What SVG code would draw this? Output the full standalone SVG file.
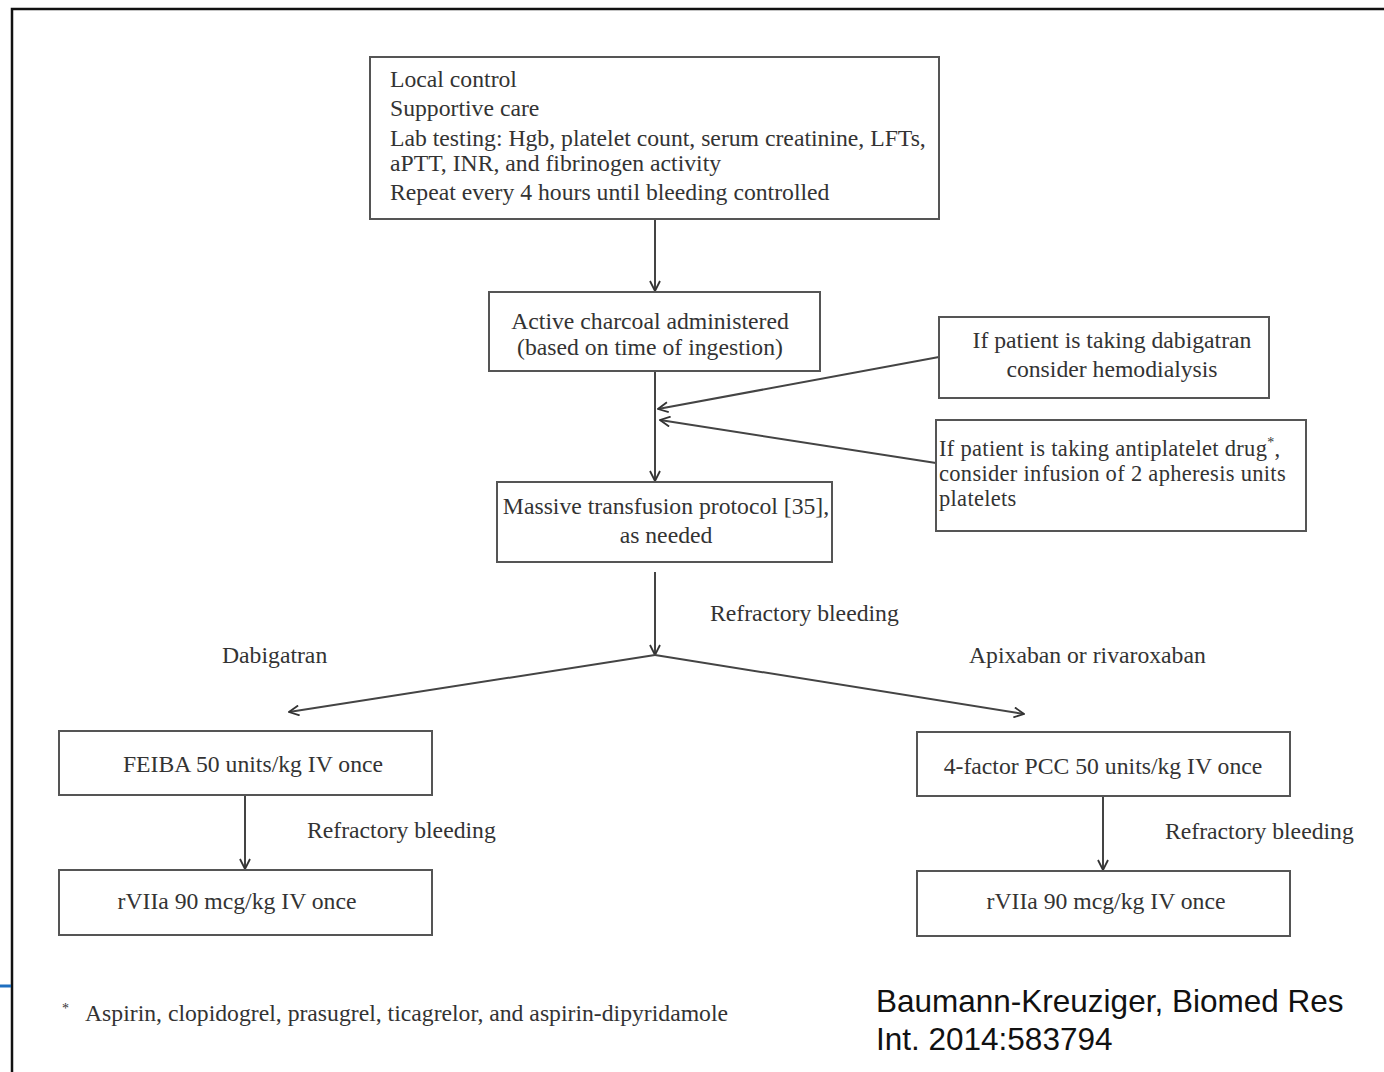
<svg xmlns="http://www.w3.org/2000/svg" width="1384" height="1072" viewBox="0 0 1384 1072">
<defs>
<style>
.box{fill:#fff;stroke:#555;stroke-width:2}
.t{font-family:"Liberation Serif","Times New Roman",serif;font-size:23.7px;fill:#333}
.s{font-size:22.5px;letter-spacing:0.3px}
.c{text-anchor:middle}
.fn{font-family:"Liberation Serif","Times New Roman",serif;font-size:23.7px;fill:#333}
.cite{font-family:"Liberation Sans",Arial,sans-serif;font-size:31.5px;fill:#111}
.ln{stroke:#444;stroke-width:2;fill:none}
</style>
<marker id="ah" viewBox="0 0 12 12" refX="11" refY="6" markerWidth="12" markerHeight="12" markerUnits="userSpaceOnUse" orient="auto">
<path d="M1,1 L11,6 L1,11" fill="none" stroke="#333" stroke-width="1.8"/>
</marker>
</defs>
<rect width="1384" height="1072" fill="#fff"/>
<g id="frame">
<path d="M12,1072 L12,9 L1384,9" fill="none" stroke="#111" stroke-width="2.5"/>
<line x1="0" y1="986" x2="11" y2="986" stroke="#1f6fc0" stroke-width="3"/>
</g>
<g id="connectors">
<line class="ln" x1="655" y1="220" x2="655" y2="291" marker-end="url(#ah)"/>
<line class="ln" x1="655" y1="372" x2="655" y2="481" marker-end="url(#ah)"/>
<line class="ln" x1="939" y1="357" x2="658" y2="409" marker-end="url(#ah)"/>
<line class="ln" x1="936" y1="463" x2="660" y2="420" marker-end="url(#ah)"/>
<line class="ln" x1="655" y1="572" x2="655" y2="655" marker-end="url(#ah)"/>
<line class="ln" x1="655" y1="655" x2="289" y2="712" marker-end="url(#ah)"/>
<line class="ln" x1="655" y1="655" x2="1024" y2="714" marker-end="url(#ah)"/>
<line class="ln" x1="245" y1="796" x2="245" y2="869" marker-end="url(#ah)"/>
<line class="ln" x1="1103" y1="797" x2="1103" y2="870" marker-end="url(#ah)"/>
</g>
<g id="labels">
<text class="t" x="710" y="621">Refractory bleeding</text>
<text class="t" x="222" y="663">Dabigatran</text>
<text class="t" x="969" y="663">Apixaban or rivaroxaban</text>
<text class="t" x="307" y="838">Refractory bleeding</text>
<text class="t" x="1165" y="839">Refractory bleeding</text>
</g>
<g id="n-initial">
<rect class="box" x="370" y="57" width="569" height="162"/>
<text class="t" x="390" y="87">Local control</text>
<text class="t" x="390" y="116">Supportive care</text>
<text class="t" x="390" y="146">Lab testing: Hgb, platelet count, serum creatinine, LFTs,</text>
<text class="t" x="390" y="171">aPTT, INR, and fibrinogen activity</text>
<text class="t" x="390" y="200">Repeat every 4 hours until bleeding controlled</text>
</g>
<g id="n-charcoal">
<rect class="box" x="489" y="292" width="331" height="79"/>
<text class="t c" x="650" y="329">Active charcoal administered</text>
<text class="t c" x="650" y="355">(based on time of ingestion)</text>
</g>
<g id="n-dialysis">
<rect class="box" x="939" y="317" width="330" height="81"/>
<text class="t c" x="1112" y="348">If patient is taking dabigatran</text>
<text class="t c" x="1112" y="377">consider hemodialysis</text>
</g>
<g id="n-antiplatelet">
<rect class="box" x="936" y="420" width="370" height="111"/>
<text class="t s" x="939" y="456">If patient is taking antiplatelet drug<tspan font-size="14" dy="-9">*</tspan><tspan dy="9">,</tspan></text>
<text class="t s" x="939" y="481">consider infusion of 2 apheresis units</text>
<text class="t s" x="939" y="506">platelets</text>
</g>
<g id="n-mtp">
<rect class="box" x="497" y="482" width="335" height="80"/>
<text class="t c" x="666" y="514">Massive transfusion protocol [35],</text>
<text class="t c" x="666" y="543">as needed</text>
</g>
<g id="n-feiba">
<rect class="box" x="59" y="731" width="373" height="64"/>
<text class="t c" x="253" y="772">FEIBA 50 units/kg IV once</text>
</g>
<g id="n-rviia-left">
<rect class="box" x="59" y="870" width="373" height="65"/>
<text class="t c" x="237" y="909">rVIIa 90 mcg/kg IV once</text>
</g>
<g id="n-pcc">
<rect class="box" x="917" y="732" width="373" height="64"/>
<text class="t c" x="1103" y="774">4-factor PCC 50 units/kg IV once</text>
</g>
<g id="n-rviia-right">
<rect class="box" x="917" y="871" width="373" height="65"/>
<text class="t c" x="1106" y="909">rVIIa 90 mcg/kg IV once</text>
</g>
<g id="footnote">
<text class="fn" x="62" y="1021"><tspan font-size="14" dy="-8">*</tspan><tspan x="85" dy="8">Aspirin, clopidogrel, prasugrel, ticagrelor, and aspirin-dipyridamole</tspan></text>
</g>
<g id="citation">
<text class="cite" x="876" y="1012">Baumann-Kreuziger, Biomed Res</text>
<text class="cite" x="876" y="1050">Int. 2014:583794</text>
</g>
</svg>
